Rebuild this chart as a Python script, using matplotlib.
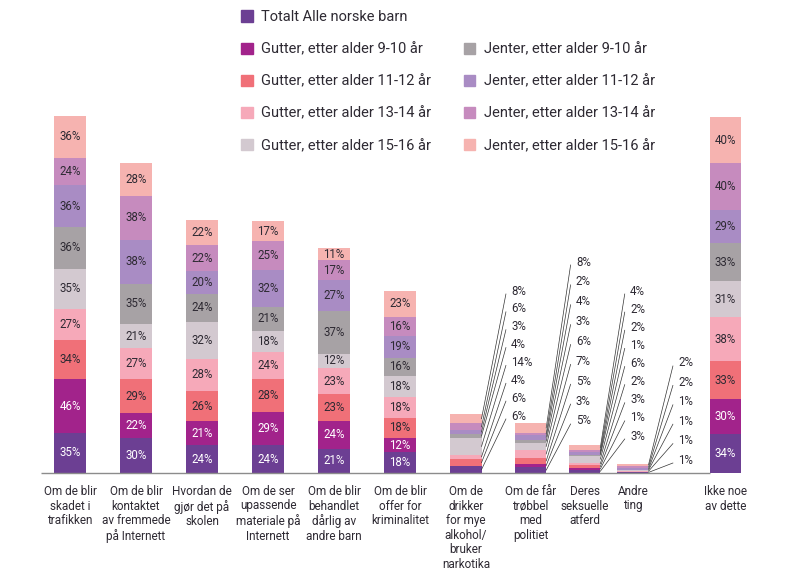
import numpy as np
import matplotlib
matplotlib.use('Agg')
import matplotlib.pyplot as plt
from matplotlib.patches import Patch

plt.rcParams['font.family'] = ['Roboto', 'DejaVu Sans']

# categories (x labels)
categories = ["Om de blir\nskadet i\ntrafikken",
              "Om de blir\nkontaktet\nav fremmede\npå Internett",
              "Hvordan de\ngjør det på\nskolen",
              "Om de ser\nupassende\nmateriale på\nInternett",
              "Om de blir\nbehandlet\ndårlig av\nandre barn",
              "Om de blir\noffer for\nkriminalitet",
              "Om de\ndrikker\nfor mye\nalkohol/\nbruker\nnarkotika",
              "Om de får\ntrøbbel\nmed\npolitiet",
              "Deres\nseksuelle\natferd",
              "Andre\nting",
              "Ikke noe\nav dette"]

# series values in %, bottom to top of each stack
totalt = [35, 30, 24, 24, 21, 18, 6, 5, 3, 1, 34]
g9_10 = [46, 22, 21, 29, 24, 12, 0, 3, 1, 0, 30]
g11_12 = [34, 29, 26, 28, 23, 18, 6, 5, 3, 0, 33]
g13_14 = [27, 27, 28, 24, 23, 18, 4, 7, 2, 1, 38]
g15_16 = [35, 21, 32, 18, 12, 18, 14, 6, 6, 1, 31]
j9_10 = [36, 35, 24, 21, 37, 16, 4, 3, 1, 0, 33]
j11_12 = [36, 38, 20, 32, 27, 19, 3, 4, 2, 1, 29]
j13_14 = [24, 38, 22, 25, 17, 16, 6, 2, 2, 2, 40]
j15_16 = [36, 28, 22, 17, 11, 23, 8, 8, 4, 2, 40]

series_names = ["Totalt Alle norske barn",
                "Gutter, etter alder 9-10 år", "Gutter, etter alder 11-12 år",
                "Gutter, etter alder 13-14 år", "Gutter, etter alder 15-16 år",
                "Jenter, etter alder 9-10 år", "Jenter, etter alder 11-12 år",
                "Jenter, etter alder 13-14 år", "Jenter, etter alder 15-16 år"]
series = [totalt, g9_10, g11_12, g13_14, g15_16, j9_10, j11_12, j13_14, j15_16]
colors = ['#6C3F93', '#A2238B', '#F07078', '#F6A9B9', '#D3C9D0',
          '#A7A2A5', '#A98CC4', '#C68BBE', '#F6B3B0']
text_colors = ['white', 'white'] + ['#2E2A33'] * 7

# layout
xpos = [0, 1, 2, 3, 4, 5, 6, 6.98, 7.8, 8.53, 9.93]
width = 0.47
callout_bars = [6, 7, 8, 9]
# pixel rows (top, bottom) of callout labels
callout_rows = {6: (291, 416), 7: (262, 421), 8: (291, 436), 9: (363, 460)}
XU = 66.0    # px per x unit
YU = 1.155   # px per percent
BASE = 473   # baseline pixel row
X0 = 70      # pixel column of first bar

fig = plt.figure(figsize=(7.95, 5.83), dpi=100)
ax = fig.add_axes([0, 0, 1, 1])
ax.set_xlim(-X0 / XU, (795 - X0) / XU)
ax.set_ylim(-(583 - BASE) / YU, BASE / YU)
ax.axis('off')

def py(p):
    return (BASE - p) / YU

bottom = np.zeros(len(categories))
for name, vals, c, tc in zip(series_names, series, colors, text_colors):
    vals = np.array(vals, dtype=float)
    ax.bar(xpos, vals, width=width, bottom=bottom, color=c, linewidth=0)
    for i, v in enumerate(vals):
        if i not in callout_bars and v > 0:
            ax.text(xpos[i], bottom[i] + v / 2, f'{int(v)}%', ha='center', va='center',
                    fontsize=8.3, color=tc)
    bottom += vals

# callouts for the small stacks
for i in callout_bars:
    vals = [s[i] for s in series]
    starts = np.concatenate([[0], np.cumsum(vals)[:-1]])
    segs = [(v, s0 + v / 2) for v, s0 in zip(vals, starts) if v > 0][::-1]
    top, bot = callout_rows[i]
    rows = np.linspace(top, bot, len(segs))
    xr = xpos[i] + width / 2
    xl = xr + 0.45
    for (v, mid), r in zip(segs, rows):
        ax.plot([xr, xl - 0.08], [mid, py(r + 3)], color='#333333', lw=0.5)
        ax.text(xl, py(r), f'{v}%', ha='left', va='center', fontsize=8.3, color='#2E2A33')

ax.hlines(0, xpos[0] - 0.44, xpos[-1] - width / 2, color='#8C8C8C', lw=1)

for x, lab in zip(xpos, categories):
    ax.text(x, py(485), lab, ha='center', va='top', fontsize=8.5,
            color='#2E2A33', linespacing=1.15)

handles = [Patch(color=c) for c in colors]
order = [0, 1, 2, 3, 4, None, 5, 6, 7, 8]
leg_h = [handles[k] if k is not None else Patch(color='none') for k in order]
leg_l = [series_names[k] if k is not None else '' for k in order]
ax.legend(leg_h, leg_l, ncol=2, loc='upper left', frameon=False,
          bbox_to_anchor=(241 / 795, 1 - 10 / 583), bbox_transform=fig.transFigure,
          borderpad=0, borderaxespad=0, fontsize=10.5, handlelength=0.8,
          handleheight=0.8, handletextpad=0.6, labelspacing=1.25, columnspacing=2.2,
          labelcolor='#2E2A33')

fig.savefig('out.png', dpi=100)
